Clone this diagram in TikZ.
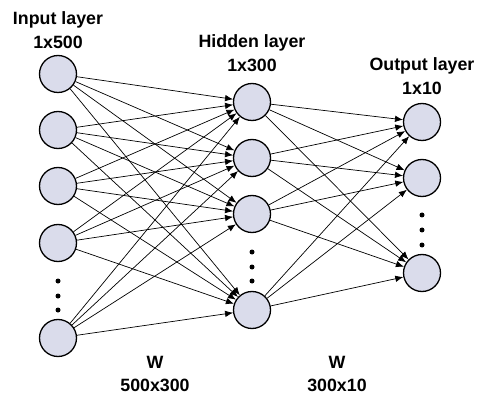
\documentclass[tikz,border=0pt]{standalone}
\usepackage{fontspec}
\setmainfont{Liberation Sans}
\usepackage{color}
\definecolor{mylavender}{RGB}{218,220,235}
\usepackage{tikz}
\usetikzlibrary{arrows.meta,positioning}
\tikzstyle{neuron}=[draw,line width=1.3pt,fill=mylavender,circle,minimum size=37pt,inner sep=0pt]
\tikzstyle{layerlabel}=[align=center,inner sep=0pt,font=\fontsize{17.8}{23.5}\selectfont\bfseries]
\tikzstyle{weight}=[line width=0.7pt,-{Latex[length=8pt,width=6.5pt]}]
\tikzstyle{vdot}=[fill,circle,inner sep=0pt,minimum size=5pt]
\begin{document}
\begin{tikzpicture}[x=1pt,y=1pt]
\useasboundingbox (0,0) rectangle (492,-403);
% input layer
\node [neuron] (i1) at (58,-74) {};
\node [neuron] (i2) at (58,-130) {};
\node [neuron] (i3) at (58,-186) {};
\node [neuron] (i4) at (58,-243) {};
\node [neuron] (i5) at (58,-338) {};
% hidden layer
\node [neuron] (h1) at (252,-102) {};
\node [neuron] (h2) at (252,-158) {};
\node [neuron] (h3) at (252,-214) {};
\node [neuron] (h4) at (252,-310) {};
% output layer
\node [neuron] (o1) at (422,-122) {};
\node [neuron] (o2) at (422,-178) {};
\node [neuron] (o3) at (422,-273) {};
% dots
\foreach \y in {281,296,310} \node [vdot] at (58,-\y) {};
\foreach \y in {252,267,281} \node [vdot] at (252,-\y) {};
\foreach \y in {215,230,245} \node [vdot] at (422,-\y) {};
% labels
\node [layerlabel, above=6pt of i1] (li) {Input layer\\1x500};
\node [layerlabel, above=11pt of h1] (lh) {Hidden layer\\1x300};
\node [layerlabel, above=8pt of o1] (lo) {Output layer\\1x10};
\node [layerlabel, anchor=south] (w1) at (155,-392) {W\\500x300};
\node [layerlabel, anchor=south] (w2) at (337,-392) {W\\300x10};
% weights
\foreach \a in {1,...,5}
  \foreach \b in {1,...,4}
    \draw [weight] (i\a) -- (h\b);
\foreach \a in {1,...,4}
  \foreach \b in {1,...,3}
    \draw [weight] (h\a) -- (o\b);
\end{tikzpicture}
\end{document}
